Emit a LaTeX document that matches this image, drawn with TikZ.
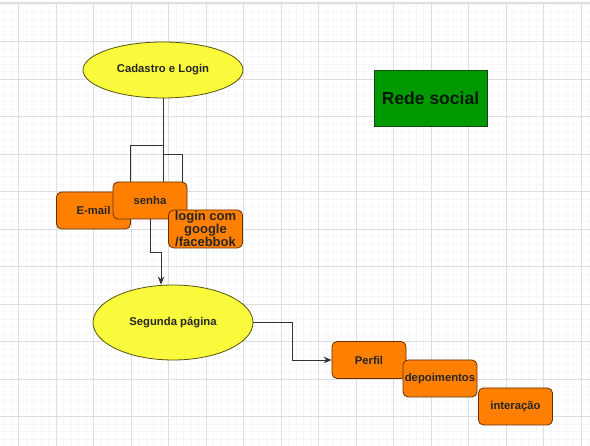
\documentclass[tikz,border=0pt]{standalone}
\usepackage{fontspec}
\setmainfont{Liberation Sans}
\usetikzlibrary{calc,arrows.meta,shapes.geometric}
\pgfdeclarelayer{grid}
\pgfdeclarelayer{edges}
\pgfsetlayers{grid,edges,main}

\definecolor{gridmajor}{RGB}{222,222,222}
\definecolor{gridminor}{RGB}{247,247,247}
\definecolor{pageyellow}{RGB}{250,250,60}
\definecolor{yellowline}{RGB}{85,85,20}
\definecolor{boxorange}{RGB}{255,128,0}
\definecolor{orangeline}{RGB}{105,45,0}
\definecolor{titlegreen}{RGB}{0,153,0}
\definecolor{greenline}{RGB}{20,70,20}

\tikzset{
	page/.style={ellipse, draw=yellowline, fill=pageyellow, line width=0.8pt, inner sep=0pt,
		text=black!85, font=\fontsize{11.3}{13}\selectfont\bfseries},
	item/.style={rectangle, rounded corners=5pt, draw=orangeline, fill=boxorange, line width=0.8pt,
		minimum width=74pt, minimum height=37pt, inner sep=1pt, align=center,
		text=black!85, font=\fontsize{11.3}{12.5}\selectfont\bfseries},
	titlebox/.style={rectangle, draw=greenline, fill=titlegreen, line width=0.8pt,
		minimum width=113pt, minimum height=56pt, text=black!90!green,
		font=\fontsize{17.5}{20}\selectfont\bfseries},
	link/.style={draw=black!80, line width=0.9pt},
	tip/.style={-{Stealth[length=8pt, width=6.5pt]}}
}

\begin{document}
\begin{tikzpicture}[x=1pt, y=-1pt]
		%%%%% START %%%%%
		\useasboundingbox (0,0) rectangle (590,446);
		
		\begin{pgfonlayer}{grid}
		\fill[white] (0,0) rectangle (590,446);
		\foreach \i in {0,...,78} \draw[gridminor, line width=0.5pt] ({3.5+7.5*\i},4) -- ({3.5+7.5*\i},446);
		\foreach \j in {0,...,58} \draw[gridminor, line width=0.5pt] (0,{4.2+7.5*\j}) -- (590,{4.2+7.5*\j});
		\foreach \i in {0,...,15} \draw[gridmajor, line width=0.8pt] ({18.5+37.5*\i},4) -- ({18.5+37.5*\i},446);
		\foreach \j in {0,...,10} \draw[gridmajor, line width=0.8pt] (0,{41.7+37.5*\j}) -- (590,{41.7+37.5*\j});
		\draw[gridmajor, line width=2pt] (0,3) -- (590,3);
		\end{pgfonlayer}
		
		\node[page, minimum width=160pt, minimum height=56pt] (cadastro) at (163,70) {Cadastro e Login};
		\node[titlebox] (rede) at (430.5,98) {Rede social};
		
		\node[item] (email) at (93.5,210.5) {E-mail};
		\node[item] (senha) at (150,200.5) {senha};
		\node[item, inner sep=0pt, minimum height=38pt, font=\fontsize{13}{12.8}\selectfont\bfseries]
			(login) at (205.5,229) {login com\\google\\/facebbok};
		
		\node[page, minimum width=160pt, minimum height=75pt] (segunda) at (173,322.5) {Segunda página};
		
		\node[item] (perfil) at (369,360) {Perfil};
		\node[item] (depo) at (440,378.5) {depoimentos};
		\node[item] (inter) at (515.5,406.5) {interação};
		
		\begin{pgfonlayer}{edges}
		\draw[link] (cadastro.south) -- (cadastro.south |- senha.north);
		\draw[link] (cadastro.south) -- ($(cadastro.south)+(0,47)$) -| (email.north east);
		\draw[link] ($(cadastro.south)+(0,56)$) -| ($(login.north west)+(14,0)$);
		
		\draw[link, tip] (senha.south) -- ++(0,33) -| ($(segunda.north)+(-12,0)$);
		\draw[link, tip] (segunda.east) -- ++(39,0) |- (perfil.west);
		\end{pgfonlayer}
		
		%%%%% END %%%%%
\end{tikzpicture}
\end{document}
